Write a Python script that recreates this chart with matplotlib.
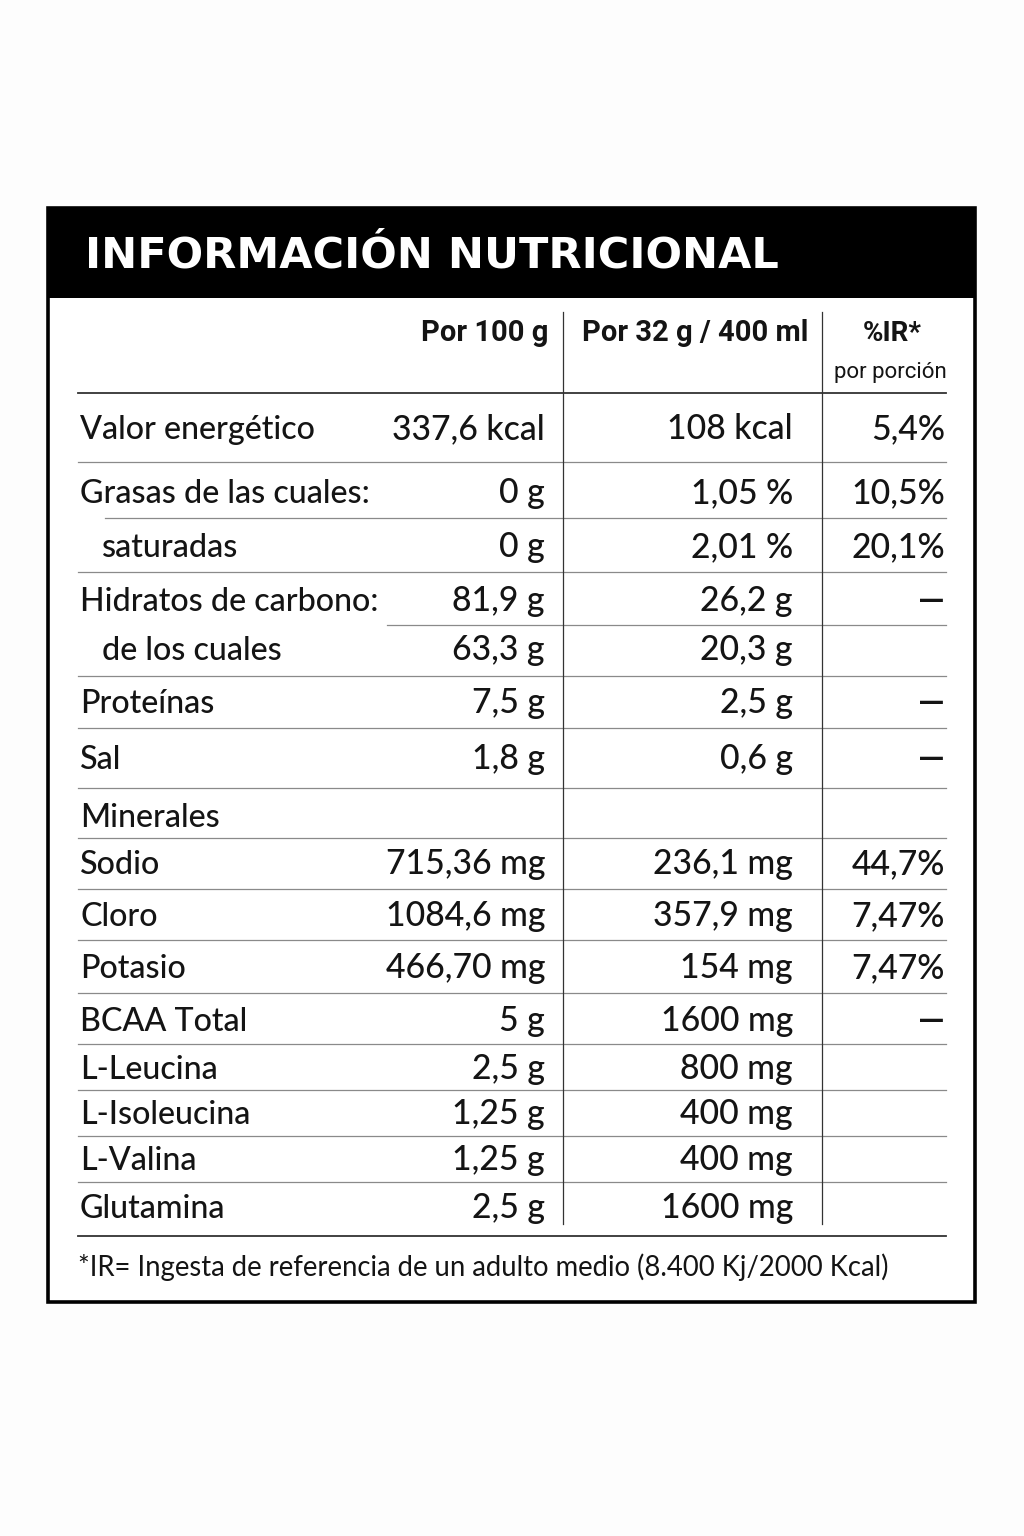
import matplotlib.pyplot as plt
from matplotlib.patches import Rectangle

# Table content
title = "INFORMACIÓN NUTRICIONAL"
col_headers = ["Por 100 g", "Por 32 g / 400 ml", "%IR*"]
col_sub = "por porción"

labels = ["Valor energético", "Grasas de las cuales:", "saturadas",
          "Hidratos de carbono:", "de los cuales", "Proteínas", "Sal",
          "Minerales", "Sodio", "Cloro", "Potasio", "BCAA Total",
          "L-Leucina", "L-Isoleucina", "L-Valina", "Glutamina"]
per_100 = ["337,6 kcal", "0 g", "0 g", "81,9 g", "63,3 g", "7,5 g", "1,8 g",
           "", "715,36 mg", "1084,6 mg", "466,70 mg", "5 g",
           "2,5 g", "1,25 g", "1,25 g", "2,5 g"]
per_portion = ["108 kcal", "1,05 %", "2,01 %", "26,2 g", "20,3 g", "2,5 g", "0,6 g",
               "", "236,1 mg", "357,9 mg", "154 mg", "1600 mg",
               "800 mg", "400 mg", "400 mg", "1600 mg"]
ir = ["5,4%", "10,5%", "20,1%", "—", "", "—", "—",
      "", "44,7%", "7,47%", "7,47%", "—",
      "", "", "", ""]
indent = [False, False, True, False, True, False, False,
          False, False, False, False, False, False, False, False, False]

footer = "*IR= Ingesta de referencia de un adulto medio (8.400 Kj/2000 Kcal)"

# layout (pixel coords)
row_y = [427, 491, 545, 599, 648, 701, 757, 815, 862, 914, 966,
         1019, 1067, 1112, 1158, 1206]
sep_y = [462, 518, 572, 625, 676, 728, 788, 838, 889, 940, 993,
         1044, 1090, 1136, 1182]
sep_x0 = {518: 105, 625: 387}

INK = "#141414"
BODY = "Lato"

fig = plt.figure(figsize=(10.24, 15.36), dpi=100)
fig.patch.set_facecolor("#fdfdfd")
ax = fig.add_axes([0, 0, 1, 1])
ax.set_xlim(0, 1024)
ax.set_ylim(1536, 0)
ax.axis("off")

# frame + header band
ax.add_patch(Rectangle((48, 208), 927, 1094, facecolor="white",
                       edgecolor="black", linewidth=2.6, zorder=1))
ax.add_patch(Rectangle((48, 208), 927, 90, facecolor="black",
                       edgecolor="black", linewidth=0, zorder=2))
ax.text(85, 268, title, color="white", fontsize=31, fontweight="bold",
        family="DejaVu Sans", va="baseline", ha="left", zorder=3)

# column headers
ax.text(548, 341, col_headers[0], ha="right", va="baseline", fontsize=21,
        fontweight="bold", family="Roboto", color=INK)
ax.text(695, 341, col_headers[1], ha="center", va="baseline", fontsize=21,
        fontweight="bold", family="Roboto", color=INK)
ax.text(892, 341, col_headers[2], ha="center", va="baseline", fontsize=20,
        fontweight="bold", family="Roboto", color=INK)
ax.text(890, 378, col_sub, ha="center", va="baseline", fontsize=16,
        family="Roboto", color=INK)

# grid lines
ax.plot([78, 946], [393, 393], color="#333333", lw=1.3, zorder=3)
for y in sep_y:
    ax.plot([sep_x0.get(y, 78), 946], [y, y], color="#8a8a8a", lw=0.9, zorder=3)
ax.plot([78, 946], [1236, 1236], color="#333333", lw=1.3, zorder=3)
for x in [563, 822]:
    ax.plot([x, x], [312, 1224], color="#333333", lw=0.9, zorder=3)

# rows
for i, lab in enumerate(labels):
    yb = row_y[i] + 12
    ax.text(102 if indent[i] else 80, yb, lab, ha="left", va="baseline",
            fontsize=23.2, family=BODY, fontweight="medium", color=INK)
    ax.text(545, yb, per_100[i], ha="right", va="baseline",
            fontsize=24.3, family=BODY, fontweight="medium", color=INK)
    ax.text(793, yb, per_portion[i], ha="right", va="baseline",
            fontsize=24.3, family=BODY, fontweight="medium", color=INK)
    ax.text(945, yb, ir[i], ha="right", va="baseline", fontsize=24.3,
            family=BODY, color=INK,
            fontweight="bold" if ir[i] == "—" else "medium")

ax.text(78, 1276, footer, ha="left", va="baseline", fontsize=19.8,
        family=BODY, color=INK)

fig.savefig("out.png", dpi=100, facecolor=fig.get_facecolor())
